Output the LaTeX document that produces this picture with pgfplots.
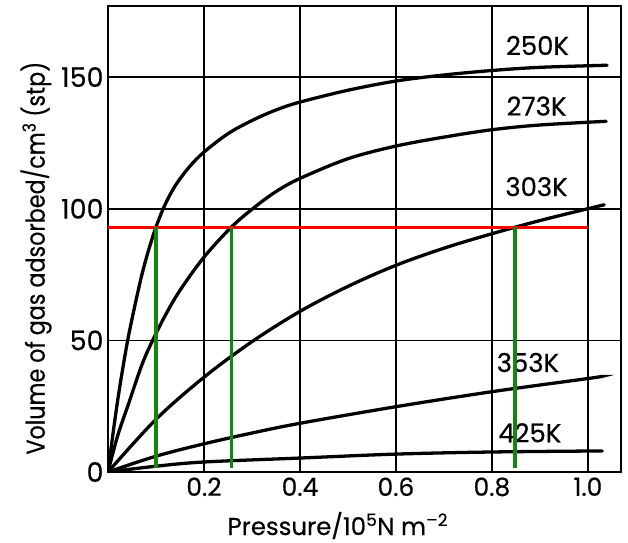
\documentclass[border=0pt]{standalone}
\usepackage{fontspec}
\setmainfont{Poppins}[FakeBold=0.4]
\usepackage{graphicx}
\usepackage{pgfplots}
\pgfplotsset{compat=1.18}
\usetikzlibrary{calc}
\definecolor{redline}{RGB}{255,0,0}
\definecolor{greenline}{RGB}{16,135,16}
\begin{document}
\begin{tikzpicture}
\begin{axis}[
  scale only axis,
  width=513bp, height=466bp,
  xmin=0, xmax=1.069, ymin=0, ymax=177,
  xtick={0.2,0.4,0.6,0.8,1.0},
  xticklabels={0.2,0.4,0.6,0.8,1.0},
  ytick={0,50,100,150},
  yticklabels={0,50,100,150},
  /pgf/number format/assume math mode=true,
  grid=major,
  major grid style={black, line width=1.6pt},
  axis line style={black, line width=2.4pt},
  tick style={draw=none},
  x tick label style={font=\fontsize{25}{29}\selectfont, yshift=-2bp},
  y tick label style={font=\fontsize{27}{31}\selectfont, xshift=-1bp},
  xlabel={Pressure/10\textsuperscript{5}N m\textsuperscript{--2}},
  xlabel style={font=\fontsize{24.5}{28}\selectfont, at={(rel axis cs:0.448,0)}, anchor=base, yshift=-63bp},
  ylabel={\scalebox{0.86}[1]{Volume of gas adsorbed/cm\textsuperscript{3} (stp)}},
  ylabel style={font=\fontsize{26}{30}\selectfont, at={(rel axis cs:0,0.459)}, anchor=center, xshift=0pt, yshift=72bp},
  every axis plot/.append style={line width=3.3pt, line cap=round},
]
\coordinate (SW) at (rel axis cs:0,0);
\coordinate (NE) at (rel axis cs:1,1);
% 250 K
\addplot[black, smooth, tension=0.55] coordinates {
 (0,0) (0.01,14) (0.02,27) (0.03,38.5) (0.041,50) (0.054,61.5) (0.07,74.5) (0.085,84.5)
 (0.1,93) (0.118,101.2) (0.14,108.7) (0.17,116) (0.2,121.5) (0.25,128.5) (0.3,133.5)
 (0.35,137.5) (0.4,140.5) (0.5,145) (0.6,148.5) (0.7,150.8) (0.8,152.5) (0.9,153.7) (1.04,154.5)};
% 273 K
\addplot[black, smooth, tension=0.55] coordinates {
 (0,0) (0.02,13.7) (0.043,26) (0.07,40.4) (0.093,50) (0.12,59.7) (0.15,69) (0.2,81.6)
 (0.257,93) (0.305,100.5) (0.35,106.5) (0.4,111.5) (0.5,119) (0.6,123.8) (0.7,127.2)
 (0.8,130) (0.9,131.8) (1.038,133.2)};
% 303 K
\addplot[black, smooth, tension=0.55] coordinates {
 (0,0) (0.1,20) (0.2,36) (0.3,49.5) (0.4,61) (0.5,70.5) (0.6,78.5)
 (0.7,85) (0.8,90.5) (0.9,95.5) (1.0,100) (1.034,101.5)};
% 353 K
\addplot[black, smooth, tension=0.55] coordinates {
 (0,0) (0.1,6) (0.2,10.7) (0.3,14.8) (0.4,18.5) (0.6,24.8) (0.8,30.5) (1.0,35.5) (1.028,36.3)};
% 425 K
\addplot[black, smooth, tension=0.55] coordinates {
 (0,0) (0.1,2.2) (0.2,3.8) (0.4,5.3) (0.6,6.8) (0.8,7.6) (1.03,8)};
\node[font=\fontsize{26}{30}\selectfont] at (axis cs:0.895,162) {250K};
\node[font=\fontsize{26}{30}\selectfont] at (axis cs:0.893,139) {273K};
\node[font=\fontsize{26}{30}\selectfont] at (axis cs:0.893,108.4) {303K};
\node[font=\fontsize{26}{30}\selectfont] at (axis cs:0.875,41.6) {353K};
\node[font=\fontsize{26}{30}\selectfont] at (axis cs:0.879,14.9) {425K};
% red and green guide lines
\addplot[redline, line width=3.3pt, line cap=butt] coordinates {(0,93) (1.0,93)};
\addplot[greenline, line width=3.3pt, line cap=butt] coordinates {(0.10,93) (0.10,1.5)};
\addplot[greenline, line width=3.3pt, line cap=butt] coordinates {(0.257,93) (0.257,1.5)};
\addplot[greenline, line width=3.3pt, line cap=butt] coordinates {(0.848,93) (0.848,1.5)};
\end{axis}
\pgfresetboundingbox
\path ($(SW)+(-108bp,-71bp)$) rectangle ($(NE)+(7bp,6bp)$);
\end{tikzpicture}
\end{document}
